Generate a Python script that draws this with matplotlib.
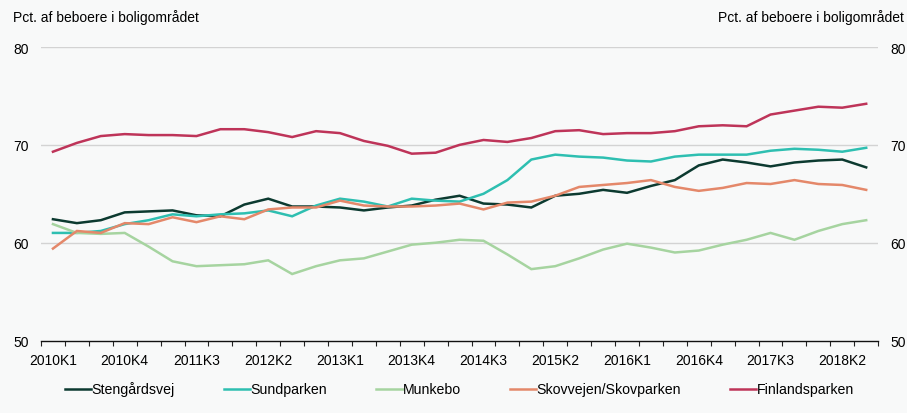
import numpy as np
import matplotlib.pyplot as plt

plt.rcParams['font.family'] = ['Liberation Sans', 'DejaVu Sans']

# kvartaler 2010K1 - 2018K3
kvartaler = [f"{aar}K{k}" for aar in range(2010, 2019) for k in range(1, 5)][:35]
tick_labels = ['2010K1', '2010K4', '2011K3', '2012K2', '2013K1', '2013K4',
               '2014K3', '2015K2', '2016K1', '2016K4', '2017K3', '2018K2']

stengaardsvej = [62.4, 62.0, 62.3, 63.1, 63.2, 63.3, 62.8, 62.7, 63.9, 64.5,
                 63.7, 63.7, 63.6, 63.3, 63.6, 63.8, 64.4, 64.8, 64.0, 63.9,
                 63.6, 64.8, 65.0, 65.4, 65.1, 65.8, 66.4, 67.9, 68.5, 68.2,
                 67.8, 68.2, 68.4, 68.5, 67.7]
sundparken = [61.0, 61.0, 61.2, 61.9, 62.3, 62.9, 62.7, 62.9, 63.0, 63.3,
              62.7, 63.8, 64.5, 64.2, 63.7, 64.5, 64.3, 64.2, 65.0, 66.4,
              68.5, 69.0, 68.8, 68.7, 68.4, 68.3, 68.8, 69.0, 69.0, 69.0,
              69.4, 69.6, 69.5, 69.3, 69.7]
munkebo = [61.9, 61.0, 60.9, 61.0, 59.6, 58.1, 57.6, 57.7, 57.8, 58.2,
           56.8, 57.6, 58.2, 58.4, 59.1, 59.8, 60.0, 60.3, 60.2, 58.8,
           57.3, 57.6, 58.4, 59.3, 59.9, 59.5, 59.0, 59.2, 59.8, 60.3,
           61.0, 60.3, 61.2, 61.9, 62.3]
skovvejen = [59.4, 61.2, 61.0, 62.0, 61.9, 62.6, 62.1, 62.7, 62.4, 63.4,
             63.6, 63.6, 64.3, 63.8, 63.7, 63.7, 63.8, 64.0, 63.4, 64.1,
             64.2, 64.8, 65.7, 65.9, 66.1, 66.4, 65.7, 65.3, 65.6, 66.1,
             66.0, 66.4, 66.0, 65.9, 65.4]
finlandsparken = [69.3, 70.2, 70.9, 71.1, 71.0, 71.0, 70.9, 71.6, 71.6, 71.3,
                  70.8, 71.4, 71.2, 70.4, 69.9, 69.1, 69.2, 70.0, 70.5, 70.3,
                  70.7, 71.4, 71.5, 71.1, 71.2, 71.2, 71.4, 71.9, 72.0, 71.9,
                  73.1, 73.5, 73.9, 73.8, 74.2]

serier = [('Stengårdsvej', stengaardsvej, '#0c3a30'),
          ('Sundparken', sundparken, '#2ebfb1'),
          ('Munkebo', munkebo, '#a6d4a0'),
          ('Skovvejen/Skovparken', skovvejen, '#e4886a'),
          ('Finlandsparken', finlandsparken, '#be3459')]

bg = '#f8f9f9'
fig = plt.figure(figsize=(9.07, 4.14), dpi=100, facecolor=bg)
ax = fig.add_axes([0.0452, 0.175, 0.923, 0.709], facecolor=bg)

x = np.arange(len(kvartaler))
for navn, vaerdier, farve in serier:
    ax.plot(x, vaerdier, color=farve, lw=1.8, label=navn, solid_joinstyle='miter')

ax.set_xlim(-0.5, len(kvartaler) - 0.5)
ax.set_ylim(50, 80)
ax.set_yticks([50, 60, 70, 80])
for y in [60, 70, 80]:
    ax.axhline(y, color='#d3d3d3', lw=1, zorder=0)

ax.set_xticks([kvartaler.index(t) for t in tick_labels])
ax.set_xticklabels(tick_labels, fontsize=10)
ax.set_xticks(np.arange(-0.5, len(kvartaler)), minor=True)
ax.tick_params(axis='x', which='major', length=0, pad=9)
ax.tick_params(axis='x', which='minor', length=3.5, width=0.8, color='#222222')
ax.tick_params(axis='y', length=0, labelsize=10, pad=8.5,
               labelleft=True, labelright=True)

for side in ['left', 'right', 'top']:
    ax.spines[side].set_visible(False)
ax.spines['bottom'].set_color('#111111')
ax.spines['bottom'].set_linewidth(1.0)

fig.text(0.014, 0.957, 'Pct. af beboere i boligområdet', fontsize=10,
         ha='left', va='center')
fig.text(0.997, 0.957, 'Pct. af beboere i boligområdet', fontsize=10,
         ha='right', va='center')

fig.legend(loc='center', bbox_to_anchor=(0.5066, 0.058), ncol=5, frameon=False,
           fontsize=10.2, handlelength=1.84, handletextpad=0.0,
           columnspacing=3.5)

fig.savefig('out.png', dpi=100, facecolor=bg)
